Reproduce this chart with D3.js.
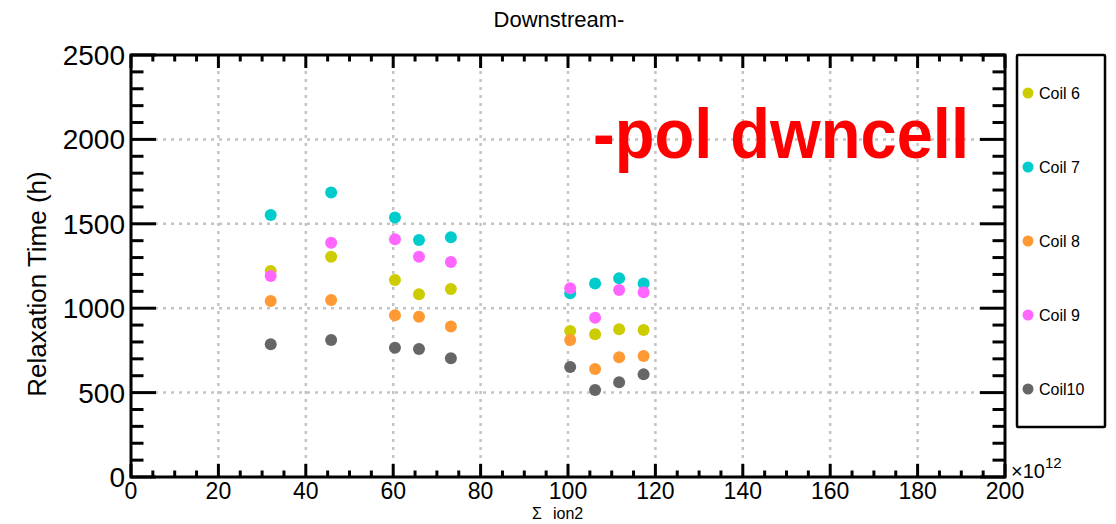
<!DOCTYPE html>
<html><head><meta charset="utf-8">
<script src="https://cdn.jsdelivr.net/npm/d3@7"></script>
<style>body{margin:0;background:#fff}svg{display:block;font-family:"Liberation Sans",Arial,Helvetica,sans-serif}</style>
</head><body><svg id="c" width="1116" height="524"></svg>
<script>
const xValues = [31.97, 45.8, 60.4, 65.9, 73.2, 100.5, 106.2, 111.7, 117.3];
const coil6 = [1220, 1305, 1167, 1082, 1114, 865, 845, 875, 871];
const coil7 = [1552, 1686, 1538, 1404, 1420, 1088, 1147, 1177, 1147];
const coil8 = [1043, 1049, 958, 950, 891, 812, 640, 709, 717];
const coil9 = [1191, 1388, 1408, 1305, 1274, 1118, 944, 1108, 1094];
const coil10 = [786, 812, 766, 758, 703, 652, 515, 561, 608];
const seriesNames = ["Coil 6", "Coil 7", "Coil 8", "Coil 9", "Coil10"];
const seriesColors = ["#cccc00", "#00cccc", "#ff9933", "#ff66ff", "#666666"];
const xTicks = [0, 20, 40, 60, 80, 100, 120, 140, 160, 180, 200];
const yTicks = [0, 500, 1000, 1500, 2000, 2500];

const series = [coil6, coil7, coil8, coil9, coil10];
const svg = d3.select("#c");
const L = 131, R = 1005, T = 55, B = 477;
const x = d3.scaleLinear().domain([0, 200]).range([L, R]);
const y = d3.scaleLinear().domain([0, 2500]).range([B, T]);

// grid
const grid = svg.append("g").attr("stroke", "#c4c4c4").attr("stroke-width", 2.5).attr("stroke-dasharray", "3,5");
xTicks.filter(t => t > 0 && t < 200).forEach(t => grid.append("line").attr("x1", x(t)).attr("x2", x(t)).attr("y1", T).attr("y2", B));
yTicks.filter(t => t > 0 && t < 2500).forEach(t => grid.append("line").attr("x1", L).attr("x2", R).attr("y1", y(t)).attr("y2", y(t)));

// red annotation
svg.append("text").attr("x", 593).attr("y", 158).attr("fill", "#ff0000").attr("font-weight", "bold")
  .attr("font-size", 70).attr("textLength", 376).attr("lengthAdjust", "spacingAndGlyphs").text("-pol dwncell");

// points
series.forEach((s, i) => {
  svg.append("g").selectAll("circle").data(s).join("circle")
    .attr("cx", (d, j) => x(xValues[j])).attr("cy", d => y(d)).attr("r", 6).attr("fill", seriesColors[i]);
});

// axes
const minorX = d3.range(0, 201, 5), minorY = d3.range(0, 2501, 100);
const ax = svg.append("g").attr("stroke", "#000").attr("stroke-width", 3);
minorX.forEach(t => {
  const len = t % 20 === 0 ? 13 : 6.5;
  ax.append("line").attr("x1", x(t)).attr("x2", x(t)).attr("y1", B).attr("y2", B - len);
  ax.append("line").attr("x1", x(t)).attr("x2", x(t)).attr("y1", T).attr("y2", T + len);
});
minorY.forEach(t => {
  const len = t % 500 === 0 ? 25 : 12.5;
  ax.append("line").attr("x1", L).attr("x2", L + len).attr("y1", y(t)).attr("y2", y(t));
  ax.append("line").attr("x1", R).attr("x2", R - len).attr("y1", y(t)).attr("y2", y(t));
});
svg.append("rect").attr("x", L).attr("y", T).attr("width", R - L).attr("height", B - T)
  .attr("fill", "none").attr("stroke", "#000").attr("stroke-width", 3);

// tick labels
svg.append("g").selectAll("text").data(xTicks).join("text")
  .attr("x", d => x(d)).attr("y", 499).attr("text-anchor", "middle").attr("font-size", 23).text(d => d);
svg.append("g").selectAll("text").data(yTicks).join("text")
  .attr("x", 125).attr("y", d => y(d) + 10).attr("text-anchor", "end").attr("font-size", 28).text(d => d);

// exponent
const ex = svg.append("text").attr("x", 1011).attr("y", 478).attr("font-size", 20);
ex.append("tspan").text("\u00d710");
ex.append("tspan").attr("dy", -10).attr("font-size", 15).text("12");

// titles
svg.append("text").attr("x", 559).attr("y", 27).attr("text-anchor", "middle").attr("font-size", 22).text("Downstream-");
const xt = svg.append("text").attr("y", 519).attr("font-size", 16);
xt.append("tspan").attr("x", 532).text("\u03a3");
xt.append("tspan").attr("x", 553).text("ion2");
svg.append("text").attr("transform", "translate(46,284) rotate(-90)").attr("text-anchor", "middle")
  .attr("font-size", 26).text("Relaxation Time (h)");

// legend
svg.append("rect").attr("x", 1017).attr("y", 55).attr("width", 88).attr("height", 372)
  .attr("fill", "#fff").attr("stroke", "#000").attr("stroke-width", 2.5).attr("rx", 1);
const legY = d3.scalePoint().domain(seriesNames).range([93, 389]);
const lg = svg.append("g").selectAll("g").data(seriesNames).join("g").attr("transform", d => `translate(0,${legY(d)})`);
lg.append("circle").attr("cx", 1028).attr("cy", 0).attr("r", 5.5).attr("fill", (d, i) => seriesColors[i]);
lg.append("text").attr("x", 1039).attr("y", 5.5).attr("font-size", 16).text(d => d);
</script></body></html>
